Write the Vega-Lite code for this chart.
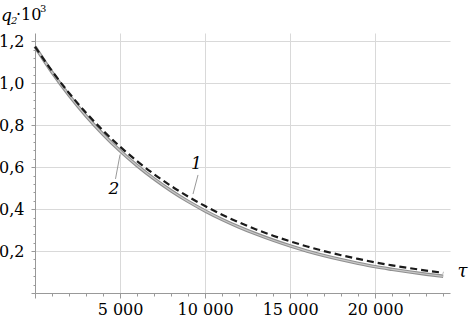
{
  "$schema": "https://vega.github.io/schema/vega-lite/v6.json",
  "width": 415,
  "height": 260,
  "autosize": {"type": "none"},
  "padding": {"left": 35, "top": 33, "right": 22, "bottom": 26},
  "background": "white",
  "config": {"view": {"stroke": null}, "font": "DejaVu Serif"},
  "datasets": {
    "curve1": [
      {"tau": 0, "q": 1.175}, {"tau": 1000, "q": 1.0588}, {"tau": 2000, "q": 0.954}, {"tau": 3000, "q": 0.8596},
      {"tau": 4000, "q": 0.7746}, {"tau": 5000, "q": 0.698}, {"tau": 6000, "q": 0.6289}, {"tau": 7000, "q": 0.5667},
      {"tau": 8000, "q": 0.5107}, {"tau": 9000, "q": 0.4601}, {"tau": 10000, "q": 0.4146}, {"tau": 11000, "q": 0.3736},
      {"tau": 12000, "q": 0.3366}, {"tau": 13000, "q": 0.3033}, {"tau": 14000, "q": 0.2733}, {"tau": 15000, "q": 0.2463},
      {"tau": 16000, "q": 0.2219}, {"tau": 17000, "q": 0.2}, {"tau": 18000, "q": 0.1802}, {"tau": 19000, "q": 0.1624},
      {"tau": 20000, "q": 0.1463}, {"tau": 21000, "q": 0.1318}, {"tau": 22000, "q": 0.1188}, {"tau": 23000, "q": 0.107},
      {"tau": 24000, "q": 0.0964}
    ],
    "curve2": [
      {"tau": 0, "q": 1.175}, {"tau": 1000, "q": 1.0527}, {"tau": 2000, "q": 0.9432}, {"tau": 3000, "q": 0.845},
      {"tau": 4000, "q": 0.7571}, {"tau": 5000, "q": 0.6783}, {"tau": 6000, "q": 0.6077}, {"tau": 7000, "q": 0.5445},
      {"tau": 8000, "q": 0.4878}, {"tau": 9000, "q": 0.437}, {"tau": 10000, "q": 0.3916}, {"tau": 11000, "q": 0.3508},
      {"tau": 12000, "q": 0.3143}, {"tau": 13000, "q": 0.2816}, {"tau": 14000, "q": 0.2518}, {"tau": 15000, "q": 0.2245},
      {"tau": 16000, "q": 0.2}, {"tau": 17000, "q": 0.1784}, {"tau": 18000, "q": 0.159}, {"tau": 19000, "q": 0.1415},
      {"tau": 20000, "q": 0.1255}, {"tau": 21000, "q": 0.1125}, {"tau": 22000, "q": 0.1005}, {"tau": 23000, "q": 0.0895},
      {"tau": 24000, "q": 0.08}
    ],
    "one": [{}]
  },
  "layer": [
    {
      "data": {"name": "curve2"},
      "mark": {"type": "line", "color": "#8f8f8f", "strokeWidth": 3.4, "interpolate": "monotone"},
      "encoding": {
        "x": {
          "field": "tau", "type": "quantitative",
          "scale": {"domain": [0, 24400], "nice": false, "zero": false},
          "axis": {
            "values": [0,1000,2000,3000,4000,5000,6000,7000,8000,9000,10000,11000,12000,13000,14000,15000,16000,17000,18000,19000,20000,21000,22000,23000,24000],
            "tickCount": 100,
            "labelExpr": "datum.value % 5000 === 0 && datum.value > 0 ? replace(format(datum.value, ','), ',', ' ') : ''",
            "labelOverlap": false,
            "labelFlush": false,
            "labelFont": "DejaVu Serif",
            "labelFontSize": 16,
            "labelColor": "black",
            "labelPadding": 3,
            "grid": true,
            "gridColor": "#d9d9d9",
            "gridWidth": 1,
            "gridOpacity": {"condition": {"test": "datum.value % 5000 === 0 && datum.value > 0", "value": 1}, "value": 0},
            "tickSize": {"condition": {"test": "datum.value % 5000 === 0", "value": 5}, "value": 3},
            "tickColor": "#999999",
            "domainColor": "#999999",
            "title": "τ",
            "titleFont": "DejaVu Serif",
            "titleFontStyle": "italic",
            "titleFontWeight": "normal",
            "titleFontSize": 18,
            "titleColor": "black",
            "titleX": 427,
            "titleY": -22,
            "titleAlign": "center",
            "titleBaseline": "middle"
          }
        },
        "y": {
          "field": "q", "type": "quantitative",
          "scale": {"domain": [0, 1.24], "nice": false, "zero": false},
          "axis": {
            "values": [0,0.04,0.08,0.12,0.16,0.2,0.24,0.28,0.32,0.36,0.4,0.44,0.48,0.52,0.56,0.6,0.64,0.68,0.72,0.76,0.8,0.84,0.88,0.92,0.96,1.0,1.04,1.08,1.12,1.16,1.2],
            "tickCount": 100,
            "labelExpr": "abs(datum.value*5 - round(datum.value*5)) < 0.001 && datum.value > 0.01 ? replace(format(datum.value, '.1f'), '.', ',') : ''",
            "labelOverlap": false,
            "labelFlush": false,
            "labelFont": "DejaVu Serif",
            "labelFontSize": 16,
            "labelColor": "black",
            "labelPadding": 7,
            "grid": true,
            "gridColor": "#d9d9d9",
            "gridWidth": 1,
            "gridOpacity": {"condition": {"test": "abs(datum.value*5 - round(datum.value*5)) < 0.001 && datum.value > 0.01", "value": 1}, "value": 0},
            "tickSize": {"condition": {"test": "abs(datum.value*5 - round(datum.value*5)) < 0.001", "value": 4}, "value": 2},
            "tickColor": "#999999",
            "domainColor": "#999999",
            "title": null
          }
        }
      }
    },
    {
      "data": {"name": "curve2"},
      "mark": {"type": "line", "color": "#c8c8c8", "strokeWidth": 1.2, "interpolate": "monotone"},
      "encoding": {
        "x": {"field": "tau", "type": "quantitative"},
        "y": {"field": "q", "type": "quantitative"}
      }
    },
    {
      "data": {"name": "curve1"},
      "mark": {"type": "line", "color": "#1a1a1a", "strokeWidth": 2.2, "strokeDash": [7, 4], "interpolate": "monotone"},
      "encoding": {
        "x": {"field": "tau", "type": "quantitative"},
        "y": {"field": "q", "type": "quantitative"}
      }
    },
    {
      "data": {"name": "one"},
      "mark": {"type": "rule", "color": "#999999", "strokeWidth": 1},
      "encoding": {
        "x": {"datum": 9584, "type": "quantitative"},
        "y": {"datum": 0.563, "type": "quantitative"},
        "x2": {"datum": 9290},
        "y2": {"datum": 0.472}
      }
    },
    {
      "data": {"name": "one"},
      "mark": {"type": "rule", "color": "#999999", "strokeWidth": 1},
      "encoding": {
        "x": {"datum": 4733, "type": "quantitative"},
        "y": {"datum": 0.544, "type": "quantitative"},
        "x2": {"datum": 5000},
        "y2": {"datum": 0.66}
      }
    },
    {
      "data": {"name": "one"},
      "mark": {"type": "text", "font": "DejaVu Serif", "fontStyle": "italic", "fontSize": 17, "align": "center", "baseline": "middle", "color": "black"},
      "encoding": {
        "x": {"datum": 9496, "type": "quantitative"},
        "y": {"datum": 0.613, "type": "quantitative"},
        "text": {"value": "1"}
      }
    },
    {
      "data": {"name": "one"},
      "mark": {"type": "text", "font": "DejaVu Serif", "fontStyle": "italic", "fontSize": 17, "align": "center", "baseline": "middle", "color": "black"},
      "encoding": {
        "x": {"datum": 4645, "type": "quantitative"},
        "y": {"datum": 0.496, "type": "quantitative"},
        "text": {"value": "2"}
      }
    },
    {
      "data": {"name": "one"},
      "mark": {"type": "text", "font": "DejaVu Serif", "fontStyle": "italic", "fontSize": 17, "align": "left", "baseline": "alphabetic", "color": "black"},
      "encoding": {
        "x": {"datum": -2000, "type": "quantitative"},
        "y": {"datum": 1.297, "type": "quantitative"},
        "text": {"value": "q"}
      }
    },
    {
      "data": {"name": "one"},
      "mark": {"type": "text", "font": "DejaVu Serif", "fontStyle": "italic", "fontSize": 10, "align": "left", "baseline": "alphabetic", "color": "black"},
      "encoding": {
        "x": {"datum": -1411, "type": "quantitative"},
        "y": {"datum": 1.283, "type": "quantitative"},
        "text": {"value": "2"}
      }
    },
    {
      "data": {"name": "one"},
      "mark": {"type": "text", "font": "DejaVu Serif", "fontSize": 16, "align": "left", "baseline": "alphabetic", "color": "black"},
      "encoding": {
        "x": {"datum": -1117, "type": "quantitative"},
        "y": {"datum": 1.302, "type": "quantitative"},
        "text": {"value": "·10"}
      }
    },
    {
      "data": {"name": "one"},
      "mark": {"type": "text", "font": "DejaVu Serif", "fontSize": 10, "align": "left", "baseline": "alphabetic", "color": "black"},
      "encoding": {
        "x": {"datum": 294, "type": "quantitative"},
        "y": {"datum": 1.34, "type": "quantitative"},
        "text": {"value": "3"}
      }
    }
  ]
}
